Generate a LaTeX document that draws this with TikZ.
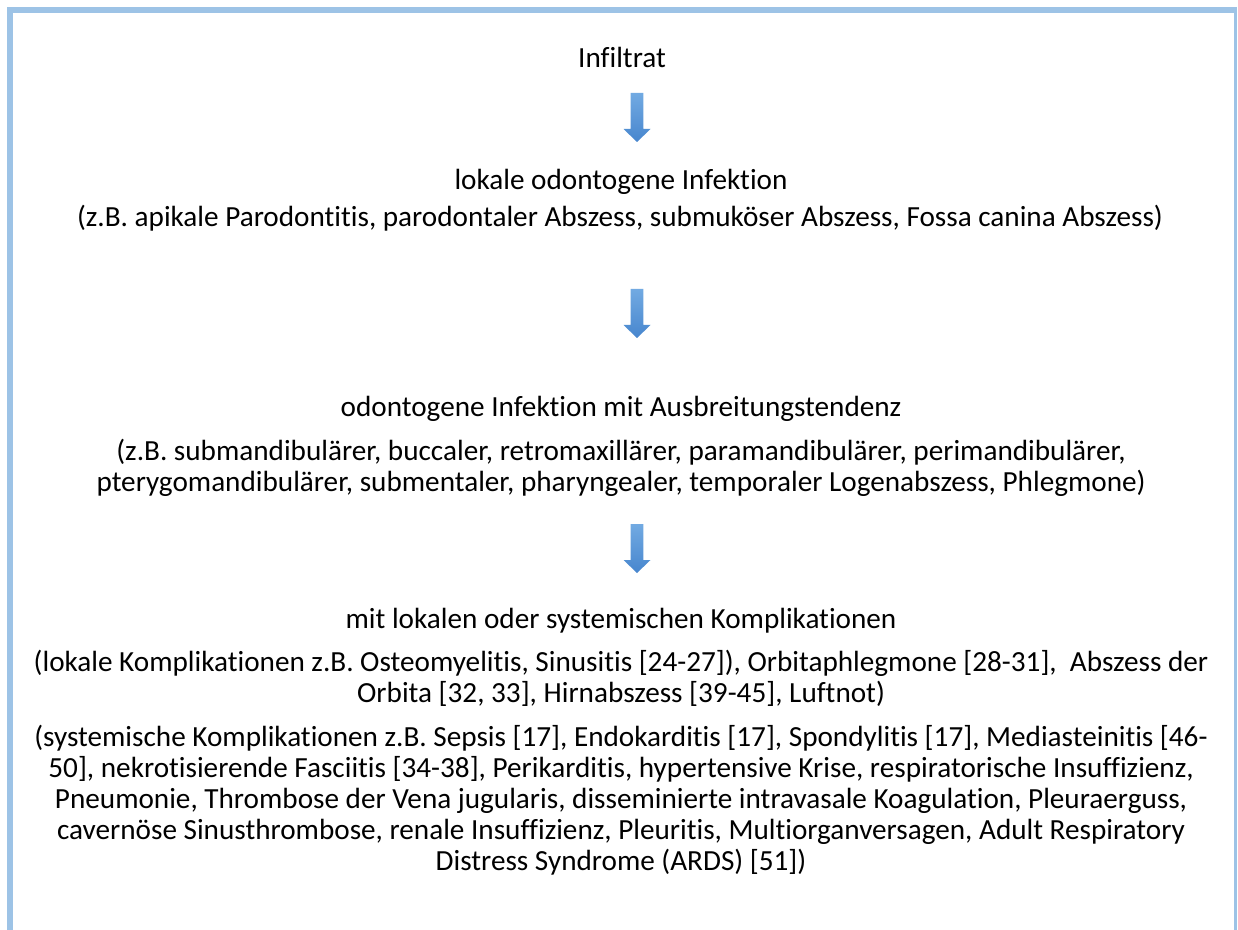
\documentclass[tikz,border=0pt]{standalone}
\usepackage{fontspec}
\setmainfont[Ligatures=NoCommon]{Carlito}
\definecolor{framecol}{HTML}{9DC3E6}
\definecolor{arrtop}{HTML}{72AAE2}
\definecolor{arrbot}{HTML}{4786CE}
\begin{document}
\begin{tikzpicture}[x=0.75pt,y=-0.75pt,
  txt/.style={anchor=base, inner sep=0pt, font=\fontsize{21.9}{26}\selectfont, text=black},
  frameline/.style={draw=framecol, line width=4.5pt},
  blockarrow/.style={top color=arrtop, bottom color=arrbot, draw=none},
  downarrow/.pic={\path[blockarrow] (-6.3,0) -- (6.3,0) -- (6.3,36) -- (13.5,36) -- (0,49) -- (-13.5,36) -- (-6.3,36) -- cycle;}]
\useasboundingbox (0,0) rectangle (1238,930);
% frame
\coordinate (fbl) at (10,930);
\coordinate (ftl) at (10,10);
\coordinate (ftr) at (1235.5,10);
\coordinate (fbr) at (1235.5,930);
\draw[frameline] (fbl) -- (ftl) -- (ftr);
\draw[draw=framecol, line width=2.6pt] (1235.5,7) -- (fbr);
% texts
\node[txt] (t1) at (622,68) {Infiltrat};
\pic (a1) at (637,93) {downarrow};
\node[txt] (t2) at (621,190) {lokale odontogene Infektion};
\node[txt] (t3) at (620,227) {(z.B. apikale Parodontitis, parodontaler Abszess, submuköser Abszess, Fossa canina Abszess)};
\pic (a2) at (637,289) {downarrow};
\node[txt] (t4) at (621,416) {odontogene Infektion mit Ausbreitungstendenz};
\node[txt] (t5) at (621,460) {(z.B. submandibulärer, buccaler, retromaxillärer, paramandibulärer, perimandibulärer,};
\node[txt] (t6) at (621,491) {pterygomandibulärer, submentaler, pharyngealer, temporaler Logenabszess, Phlegmone)};
\pic (a3) at (637,524) {downarrow};
\node[txt] (t7) at (621,628) {mit lokalen oder systemischen Komplikationen};
\node[txt] (t8) at (621,671) {(lokale Komplikationen z.B. Osteomyelitis, Sinusitis [24-27]), Orbitaphlegmone [28-31],\ \ Abszess der};
\node[txt] (t9) at (621,702) {Orbita [32, 33], Hirnabszess [39-45], Luftnot)};
\node[txt] (t10) at (621,746) {(systemische Komplikationen z.B. Sepsis [17], Endokarditis [17], Spondylitis [17], Mediasteinitis [46-};
\node[txt] (t11) at (621,777) {50], nekrotisierende Fasciitis [34-38], Perikarditis, hypertensive Krise, respiratorische Insuffizienz,};
\node[txt] (t12) at (621,808) {Pneumonie, Thrombose der Vena jugularis, disseminierte intravasale Koagulation, Pleuraerguss,};
\node[txt] (t13) at (621,839) {cavernöse Sinusthrombose, renale Insuffizienz, Pleuritis, Multiorganversagen, Adult Respiratory};
\node[txt] (t14) at (621,870) {Distress Syndrome (ARDS) [51])};
\end{tikzpicture}
\end{document}
